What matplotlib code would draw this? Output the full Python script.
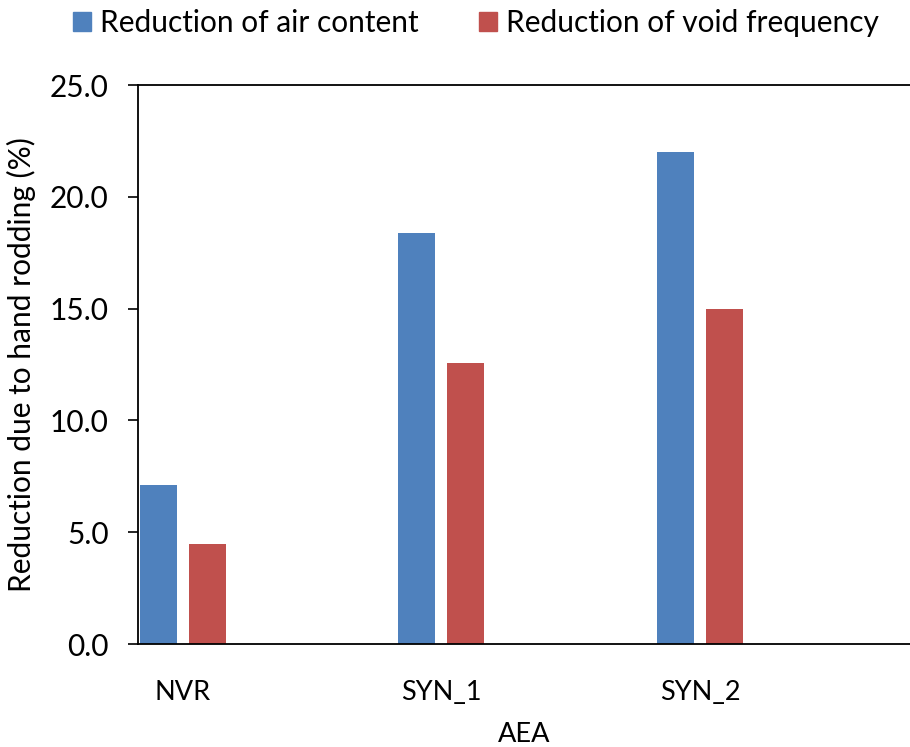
import matplotlib
matplotlib.use("Agg")
import numpy as np
import matplotlib.pyplot as plt
from matplotlib.patches import Patch

categories = ["NVR", "SYN_1", "SYN_2"]
air_content = [7.1, 18.4, 22.0]
void_frequency = [4.45, 12.57, 14.97]
series_names = ["Reduction of air content", "Reduction of void frequency"]
colors = ["#4F81BD", "#C0504D"]

plt.rcParams["font.family"] = ["Lato", "DejaVu Sans"]

fig = plt.figure(figsize=(9.1, 7.47), dpi=100)
ax = fig.add_axes([138 / 910, 103 / 747, 1 - 138 / 910, 559 / 747])

x = np.arange(len(categories))
width = 0.143
offset = 0.0946
ax.bar(x - offset, air_content, width, color=colors[0])
ax.bar(x + offset, void_frequency, width, color=colors[1])

ax.set_xlim(-0.172, 2.81)
ax.set_ylim(0, 25)
yt = np.arange(0, 25.1, 5)
ax.set_yticks(yt)
ax.set_yticklabels([f"{v:.1f}" for v in yt], fontsize=21.5)
ax.set_xticks(x)
ax.set_xticklabels(categories, fontsize=19.5)
ax.tick_params(axis="x", length=0, pad=26)
ax.tick_params(axis="y", length=7, width=1.2, pad=14)
ax.spines["right"].set_visible(False)
for s in ["left", "bottom", "top"]:
    ax.spines[s].set_linewidth(1.3)

ax.set_xlabel("AEA", fontsize=19.5, labelpad=12)
ax.set_ylabel("Reduction due to hand rodding (%)", fontsize=21.5, labelpad=10)

handles = [Patch(color=c) for c in colors]
fig.legend(handles, series_names, loc="upper center", bbox_to_anchor=(0.523, 1.024),
           ncol=2, frameon=False, fontsize=21.5, handlelength=0.62, handleheight=0.62,
           handletextpad=0.3, columnspacing=2.0)

fig.savefig("out.png", dpi=100)
